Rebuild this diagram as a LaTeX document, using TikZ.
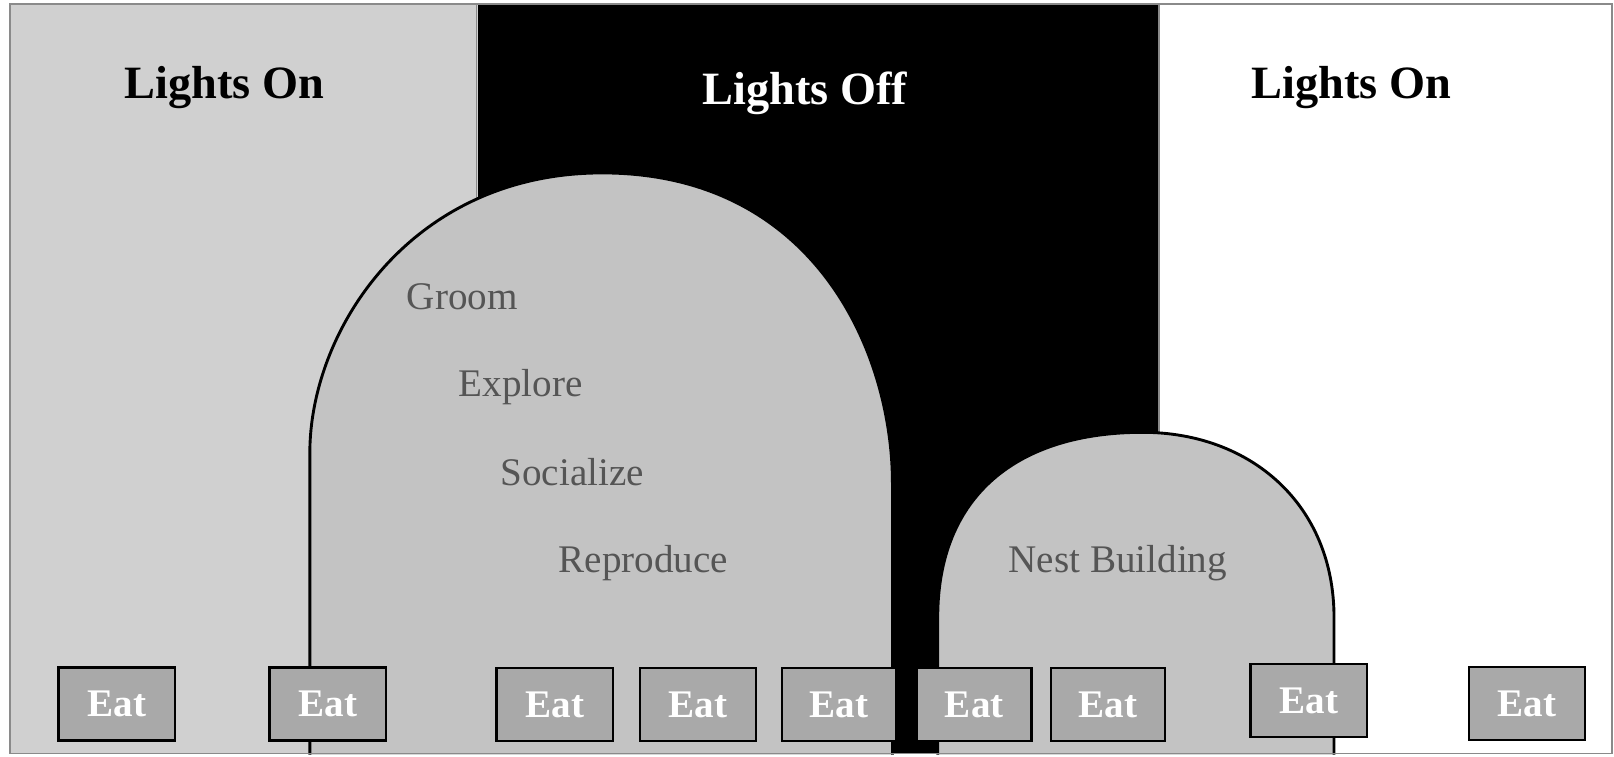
\documentclass[tikz,border=0pt]{standalone}
\usepackage{fontspec}
\setmainfont{Liberation Serif}
\definecolor{leftgray}{HTML}{D0D0D0}
\definecolor{archgray}{HTML}{C3C3C3}
\definecolor{eatgray}{HTML}{A9A9A9}
\definecolor{labelgray}{HTML}{555555}
\definecolor{framegray}{HTML}{8A8A8A}
\tikzset{
  arch/.style={fill=archgray, draw=black, line width=2.8pt},
  eatbox/.style={draw=black, line width=2.4pt, fill=eatgray, minimum width=113pt, minimum height=71pt, inner sep=0pt,
     text=white, font=\fontsize{38}{40}\selectfont\bfseries},
  title/.style={anchor=base, font=\fontsize{45}{50}\selectfont\bfseries, inner sep=0pt},
  activity/.style={anchor=base, font=\fontsize{38}{42}\selectfont, text=labelgray, inner sep=0pt}
}
\begin{document}
\begin{tikzpicture}[x=1pt,y=-1pt]
\useasboundingbox (0,0) rectangle (1568,735);
\fill[white] (0,0) rectangle (1568,735);
% panels
\fill[leftgray] (10,4) rectangle (464,732);
\fill[black] (464,4) rectangle (1125,732);
\fill[white] (1125,4) rectangle (1566,732);
\draw[framegray, line width=1.4pt] (463,4) -- (463,200);
\draw[framegray, line width=1.4pt] (1126,4) -- (1126,425);
% big arch
\path[arch] (301,733) -- (301,440) .. controls (301,320) and (400,168) .. (585,168)
  .. controls (790,168) and (867,340) .. (867,470) -- (867,733);
% small arch
\path[arch] (911,733) -- (911,600) .. controls (911,480) and (990,420) .. (1110,420)
  .. controls (1215,420) and (1296,490) .. (1296,600) -- (1296,733);
% frame
\draw[framegray, line width=1.6pt] (10,4) rectangle (1566,732);
% titles
\node[title] (t1) at (218,96) {Lights On};
\node[title, text=white] (t2) at (782,102) {Lights Off};
\node[title] (t3) at (1313,96) {Lights On};
% activities
\node[activity] (groom) at (449,301) {Groom};
\node[activity] (explore) at (506,385) {Explore};
\node[activity] (social) at (556,472) {Socialize};
\node[activity] (repro) at (625,556) {Reproduce};
\node[activity] (nest) at (1086,556) {Nest Building};
% eat boxes
\node[eatbox] (e1) at (113.5,684) {Eat};
\node[eatbox] (e2) at (318.5,684) {Eat};
\node[eatbox] (e3) at (539,684.5) {Eat};
\node[eatbox] (e4) at (678,684.5) {Eat};
\node[eatbox, minimum width=111pt] (e5) at (815,684.5) {Eat};
\node[eatbox, minimum width=111pt] (e6) at (946.5,684.5) {Eat};
\node[eatbox, minimum width=111pt] (e7) at (1076.5,684.5) {Eat};
\node[eatbox] (e8) at (1271.5,680.5) {Eat};
\node[eatbox] (e9) at (1483.5,683.5) {Eat};
\end{tikzpicture}
\end{document}
